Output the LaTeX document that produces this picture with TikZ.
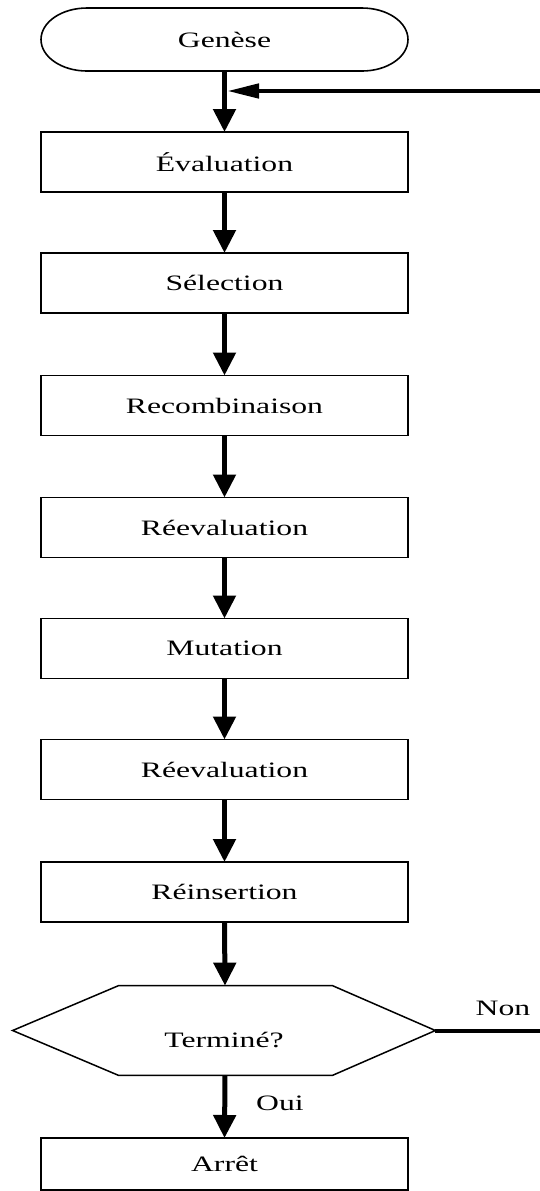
\documentclass[tikz,border=0pt]{standalone}
\usepackage{fontspec}
\setmainfont{Liberation Serif}[FakeStretch=1.44]
\usetikzlibrary{arrows.meta,calc}

\tikzset{
  stepbox/.style={draw, line width=0.8pt, minimum width=183.5pt, minimum height=30pt,
                  inner sep=0pt, outer sep=0pt},
  frame/.style={minimum width=183.5pt, minimum height=31.5pt, inner sep=0pt, outer sep=0pt},
  outline/.style={draw, line width=0.8pt},
  flow/.style={line width=2.5pt, -{Triangle[length=11.5pt,width=11pt]}},
  flowh/.style={line width=2.3pt, -{Triangle[length=16pt,width=7pt]}},
  plain/.style={line width=2pt},
  lbl/.style={inner sep=0pt}
}

\begin{document}
\begin{tikzpicture}[x=0.5pt, y=-0.5pt, font=\fontsize{11pt}{13pt}\selectfont]
\useasboundingbox (0,0) rectangle (540,1191);

% start terminal (stadium with elliptic ends)
\node[frame] (gen) at (224.5,39.5) {Genèse};
\draw[outline] ($(gen.north west)+(46,0)$) -- ($(gen.north east)+(-46,0)$)
  arc[start angle=90, end angle=-90, x radius=23pt, y radius=15.75pt]
  -- ($(gen.south west)+(46,0)$)
  arc[start angle=270, end angle=90, x radius=23pt, y radius=15.75pt] -- cycle;

% process steps
\node[stepbox] (eval)    at (224.5,162)   {Évaluation};
\node[stepbox] (sel)     at (224.5,283)   {Sélection};
\node[stepbox] (recomb)  at (224.5,405.5) {Recombinaison};
\node[stepbox] (reevalA) at (224.5,527.5) {Réevaluation};
\node[stepbox] (mut)     at (224.5,648.5) {Mutation};
\node[stepbox] (reevalB) at (224.5,769.5) {Réevaluation};
\node[stepbox] (reins)   at (224.5,892)   {Réinsertion};

% decision (hexagon)
\node[lbl, minimum width=211pt, minimum height=44.5pt] (term) at (224,1030.5) {};
\node[lbl] (termtxt) at (224,1040) {Terminé?};
\draw[line width=0.75pt] (term.west) -- ($(term.north west)+(106,0)$)
  -- ($(term.north east)+(-103,0)$) -- (term.east)
  -- ($(term.south east)+(-103,0)$) -- ($(term.south west)+(106,0)$) -- cycle;

% end
\node[stepbox, minimum height=26pt] (arret) at (224.5,1164) {Arrêt};

% main flow
\draw[flow] (gen.south) -- (eval.north);
\draw[flow] (eval.south) -- (sel.north);
\draw[flow] (sel.south) -- (recomb.north);
\draw[flow] (recomb.south) -- (reevalA.north);
\draw[flow] (reevalA.south) -- (mut.north);
\draw[flow] (mut.south) -- (reevalB.north);
\draw[flow] (reevalB.south) -- (reins.north);
\draw[flow] (reins.south) -- ($(term.north)+(1,0)$);
\draw[flow] ($(term.south)+(1,0)$) -- (arret.north);

% loop back
\coordinate (loopout) at (540,1030.5);
\coordinate (loopin)  at (540,91);
\coordinate (join) at ($(gen.south |- loopin)+(2.5,0)$);
\draw[plain] (term.east) -- (loopout);
\draw[flowh] (loopin) -- (join);

% branch labels
\node[lbl] (non) at (503,1008) {Non};
\node[lbl] (oui) at (280,1103) {Oui};
\end{tikzpicture}
\end{document}
